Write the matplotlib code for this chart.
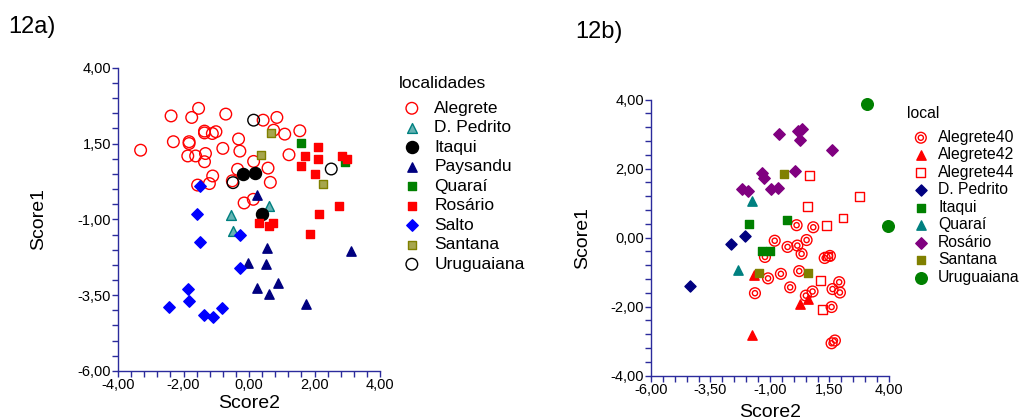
import matplotlib
matplotlib.use("Agg")
import matplotlib.pyplot as plt
from matplotlib.ticker import FixedLocator, MultipleLocator, FuncFormatter
from matplotlib.legend_handler import HandlerTuple

plt.rcParams['font.family'] = ['Liberation Sans', 'DejaVu Sans']

# ---------------- Panel 12a data ----------------
a_alegrete_x = [-3.31, -2.38, -1.54, -1.75, -0.71, -2.31, -1.83, -1.83, -1.36, -1.36, -1.12, -1.01,
                -1.87, -1.63, -1.33, -1.36, -0.80, -0.32, -0.28, 0.43, 0.85, 0.75, 1.09, 1.55, 1.22,
                0.14, 0.58, 0.65, -0.35, -0.51, -1.11, -1.21, -1.57, -0.15, 0.13]
a_alegrete_y = [1.28, 2.41, 2.66, 2.36, 2.47, 1.56, 1.56, 1.50, 1.91, 1.85, 1.83, 1.89,
                1.09, 1.09, 1.17, 0.90, 1.34, 1.65, 1.25, 2.27, 2.36, 1.94, 1.81, 1.92, 1.13,
                0.91, 0.69, 0.22, 0.65, 0.27, 0.43, 0.18, 0.13, -0.46, -0.34]
a_dpedrito_x = [-0.56, 0.61, -0.50]
a_dpedrito_y = [-0.86, -0.56, -1.39]
a_itaqui_x = [-0.19, 0.17, 0.41]
a_itaqui_y = [0.48, 0.53, -0.82]
a_paysandu_x = [0.24, 0.55, -0.02, 0.53, 0.88, 0.24, 0.60, 1.74, 3.11]
a_paysandu_y = [-0.19, -1.96, -2.45, -2.47, -3.10, -3.25, -3.45, -3.78, -2.05]
a_quarai_x = [1.59, 2.94]
a_quarai_y = [1.53, 0.88]
a_rosario_x = [2.10, 1.72, 2.12, 1.59, 2.01, 2.85, 2.98, 2.75, 2.14, 0.31, 0.61, 0.74, 1.87]
a_rosario_y = [1.39, 1.08, 0.98, 0.77, 0.48, 1.10, 0.98, -0.57, -0.81, -1.12, -1.22, -1.11, -1.47]
a_salto_x = [-1.50, -1.58, -1.50, -0.27, -0.27, -1.87, -1.84, -2.43, -1.36, -1.11, -0.83]
a_salto_y = [0.11, -0.84, -1.75, -1.52, -2.62, -3.31, -3.70, -3.89, -4.14, -4.21, -3.92]
a_santana_x = [0.67, 0.36, 2.27]
a_santana_y = [1.86, 1.11, 0.15]
a_uruguaiana_x = [0.14, 2.51, -0.49]
a_uruguaiana_y = [2.27, 0.66, 0.21]

# ---------------- Panel 12b data ----------------
b_alegrete40_x = [0.12, 0.82, -0.80, 0.54, -0.26, 0.15, 0.33, -1.21, 1.30, 1.52, -1.08, -0.54,
                  0.23, 1.91, -1.63, -0.15, 0.51, 0.79, 1.63, 1.94, 1.59, 1.73, 1.59]
b_alegrete40_y = [0.36, 0.30, -0.09, -0.07, -0.27, -0.23, -0.47, -0.56, -0.59, -0.53, -1.18, -1.05,
                  -0.97, -1.29, -1.61, -1.44, -1.68, -1.56, -1.49, -1.59, -2.01, -2.98, -3.06]
b_alegrete42_x = [-1.67, -1.74, 0.26, 0.59]
b_alegrete42_y = [-1.09, -2.81, -1.93, -1.79]
b_alegrete44_x = [0.65, 2.75, 0.57, 2.07, 1.37, 1.43, 1.14, 1.21]
b_alegrete44_y = [1.80, 1.19, 0.90, 0.57, 0.36, -0.53, -1.24, -2.09]
b_dpedrito_x = [-2.04, -2.65, -4.36]
b_dpedrito_y = [0.04, -0.19, -1.41]
b_itaqui_x = [-1.88, -0.30, -1.35, -1.01]
b_itaqui_y = [0.40, 0.52, -0.38, -0.38]
b_quarai_x = [-1.74, -2.33]
b_quarai_y = [1.07, -0.93]
b_rosario_x = [-0.62, 0.19, 0.36, 0.26, 1.62, -1.34, -1.24, 0.05, -2.16, -1.94, -0.97, -0.68]
b_rosario_y = [3.01, 3.08, 3.14, 2.83, 2.54, 1.86, 1.74, 1.93, 1.41, 1.36, 1.41, 1.43]
b_santana_x = [-0.40, -1.47, 0.58]
b_santana_y = [1.83, -1.03, -1.03]
b_uruguaiana_x = [3.09, 3.97]
b_uruguaiana_y = [3.87, 0.33]

a_xticks = [-4, -2, 0, 2, 4]
a_yticks = [-6, -3.5, -1, 1.5, 4]
b_xticks = [-6, -3.5, -1, 1.5, 4]
b_yticks = [-4, -2, 0, 2, 4]

AXC = '#2b2b9c'

fig = plt.figure(figsize=(10.2, 4.19), dpi=100)


def style_axes(ax, xt, yt, xminor, yminor, xlim, ylim):
    ax.set_xlim(*xlim)
    ax.set_ylim(*ylim)
    for s in ['top', 'right']:
        ax.spines[s].set_visible(False)
    for s in ['left', 'bottom']:
        ax.spines[s].set_color(AXC)
        ax.spines[s].set_linewidth(1.0)
    ax.xaxis.set_major_locator(FixedLocator(xt))
    ax.yaxis.set_major_locator(FixedLocator(yt))
    ax.xaxis.set_minor_locator(MultipleLocator(xminor))
    ax.yaxis.set_minor_locator(MultipleLocator(yminor))
    fmt = FuncFormatter(lambda v, p: f"{v:.2f}".replace('.', ','))
    ax.xaxis.set_major_formatter(fmt)
    ax.yaxis.set_major_formatter(fmt)
    ax.tick_params(which='both', direction='out', length=4, width=1, color=AXC,
                   labelsize=10.5, pad=1)
    ax.tick_params(which='minor', length=4)
    ax.set_facecolor('none')


# ---------------- Panel a ----------------
ax1 = fig.add_axes([0.1157, 0.1146, 0.2569, 0.7238])
style_axes(ax1, a_xticks, a_yticks, 0.4, 0.5, (-4, 4), (-6, 4))
h = []
h.append(ax1.scatter(a_alegrete_x, a_alegrete_y, s=70, facecolors='none', edgecolors='#ff0000', linewidths=1.0, clip_on=False))
h.append(ax1.scatter(a_dpedrito_x, a_dpedrito_y, s=50, marker='^', facecolors='#66b3b3', edgecolors='#008080', linewidths=1.0))
h.append(ax1.scatter(a_itaqui_x, a_itaqui_y, s=75, marker='o', color='#000000'))
h.append(ax1.scatter(a_paysandu_x, a_paysandu_y, s=45, marker='^', color='#000080'))
h.append(ax1.scatter(a_quarai_x, a_quarai_y, s=40, marker='s', color='#008000'))
h.append(ax1.scatter(a_rosario_x, a_rosario_y, s=40, marker='s', color='#ff0000'))
h.append(ax1.scatter(a_salto_x, a_salto_y, s=34, marker='D', color='#0000ff'))
h.append(ax1.scatter(a_santana_x, a_santana_y, s=40, marker='s', facecolors='#a6a64d', edgecolors='#808000', linewidths=1.0))
h.append(ax1.scatter(a_uruguaiana_x, a_uruguaiana_y, s=70, facecolors='none', edgecolors='#000000', linewidths=1.0))
a_labels = ['Alegrete', 'D. Pedrito', 'Itaqui', 'Paysandu', 'Quaraí', 'Rosário', 'Salto', 'Santana', 'Uruguaiana']
fig.text(399 / 1020, 1 - 83 / 419, 'localidades', fontsize=12.5, va='center', ha='left')
leg1 = fig.legend(h, a_labels, loc='upper left', bbox_to_anchor=(391 / 1020, 1 - 92 / 419),
                  frameon=False, fontsize=12.5,
                  labelspacing=0.25, handletextpad=0.6, borderpad=0, handlelength=1.4)
ax1.set_xlabel('Score2', fontsize=14, labelpad=2)
ax1.set_ylabel('Score1', fontsize=14)
ax1.yaxis.set_label_coords(-0.27, 0.5)
fig.text(8 / 1020, 1 - 27 / 419, '12a)', fontsize=17, va='center', ha='left')

# ---------------- Panel b ----------------
ax2 = fig.add_axes([0.6382, 0.1033, 0.2333, 0.6592])
style_axes(ax2, b_xticks, b_yticks, 0.5, 0.4, (-6, 4), (-4, 4))
g = []
o40 = ax2.scatter(b_alegrete40_x, b_alegrete40_y, s=60, facecolors='none', edgecolors='#ff0000', linewidths=1.0)
i40 = ax2.scatter(b_alegrete40_x, b_alegrete40_y, s=14, facecolors='none', edgecolors='#ff0000', linewidths=1.0)
g.append((o40, i40))
g.append(ax2.scatter(b_alegrete42_x, b_alegrete42_y, s=45, marker='^', color='#ff0000'))
g.append(ax2.scatter(b_alegrete44_x, b_alegrete44_y, s=40, marker='s', facecolors='none', edgecolors='#ff0000', linewidths=1.0))
g.append(ax2.scatter(b_dpedrito_x, b_dpedrito_y, s=32, marker='D', color='#000080'))
g.append(ax2.scatter(b_itaqui_x, b_itaqui_y, s=40, marker='s', color='#008000'))
g.append(ax2.scatter(b_quarai_x, b_quarai_y, s=45, marker='^', color='#008080'))
g.append(ax2.scatter(b_rosario_x, b_rosario_y, s=34, marker='D', color='#800080'))
g.append(ax2.scatter(b_santana_x, b_santana_y, s=40, marker='s', color='#808000'))
g.append(ax2.scatter(b_uruguaiana_x, b_uruguaiana_y, s=70, marker='o', color='#008000', clip_on=False))
b_labels = ['Alegrete40', 'Alegrete42', 'Alegrete44', 'D. Pedrito', 'Itaqui', 'Quaraí', 'Rosário', 'Santana', 'Uruguaiana']
fig.text(907 / 1020, 1 - 113 / 419, 'local', fontsize=11.3, va='center', ha='left')
leg2 = fig.legend(g, b_labels, loc='upper left', bbox_to_anchor=(902 / 1020, 1 - 122 / 419),
                  frameon=False, fontsize=11.3,
                  labelspacing=0.16, handletextpad=0.4, borderpad=0, handlelength=1.4,
                  handler_map={tuple: HandlerTuple(ndivide=1, pad=0)})
ax2.set_xlabel('Score2', fontsize=14, labelpad=5)
ax2.set_ylabel('Score1', fontsize=14)
ax2.yaxis.set_label_coords(-0.25, 0.5)
fig.text(575 / 1020, 1 - 32 / 419, '12b)', fontsize=17, va='center', ha='left')

fig.savefig('out.png', dpi=100)
